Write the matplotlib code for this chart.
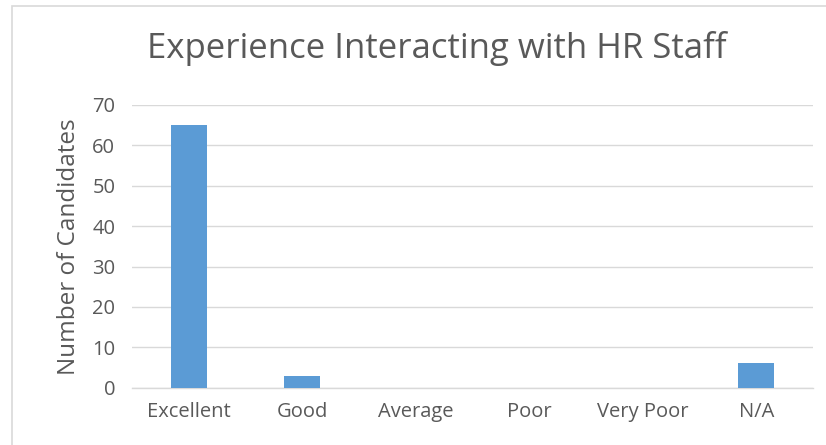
import matplotlib
matplotlib.use("Agg")
import matplotlib.pyplot as plt
from matplotlib.patches import Rectangle

categories = ["Excellent", "Good", "Average", "Poor", "Very Poor", "N/A"]
values = [65, 3, 0, 0, 0, 6]
yticks = [0, 10, 20, 30, 40, 50, 60, 70]
title = "Experience Interacting with HR Staff"
ylabel = "Number of Candidates"

plt.rcParams['font.family'] = ['Open Sans', 'DejaVu Sans']
W, H = 826, 445
fig = plt.figure(figsize=(W / 100, H / 100), dpi=100)
fig.patch.set_facecolor("white")

# chart frame (left and top edges visible)
fig.add_artist(Rectangle((12 / W, -0.1), 1.2, (H - 6) / H + 0.1, transform=fig.transFigure,
                         fill=False, edgecolor="#D9D9D9", linewidth=1.2))

ax = fig.add_axes([132 / W, 1 - 387.7 / H, (813 - 132) / W, (387.7 - 105) / H])
x = list(range(len(categories)))
ax.bar(x, values, width=0.313, color="#5B9BD5", zorder=3)
ax.set_xlim(-0.5, len(categories) - 0.5)
ax.set_ylim(0, 70)
ax.set_yticks(yticks)
ax.set_xticks(x)
ax.set_xticklabels(categories)
ax.yaxis.grid(True, color="#D9D9D9", linewidth=1.0, zorder=0)
ax.set_axisbelow(True)
for s in ["top", "right", "left"]:
    ax.spines[s].set_visible(False)
ax.spines["bottom"].set_color("#D9D9D9")
ax.spines["bottom"].set_linewidth(1.0)
ax.tick_params(axis="both", length=0, colors="#595959", labelsize=14.5)
ax.tick_params(axis="x", pad=10)
ax.tick_params(axis="y", pad=12)
ax.set_ylabel(ylabel, color="#595959", fontsize=17.5, labelpad=8)
fig.text(437 / W, 1 - 49 / H, title, ha="center", va="center", fontsize=25,
         color="#595959")

fig.savefig("out.png", dpi=100, facecolor="white")
